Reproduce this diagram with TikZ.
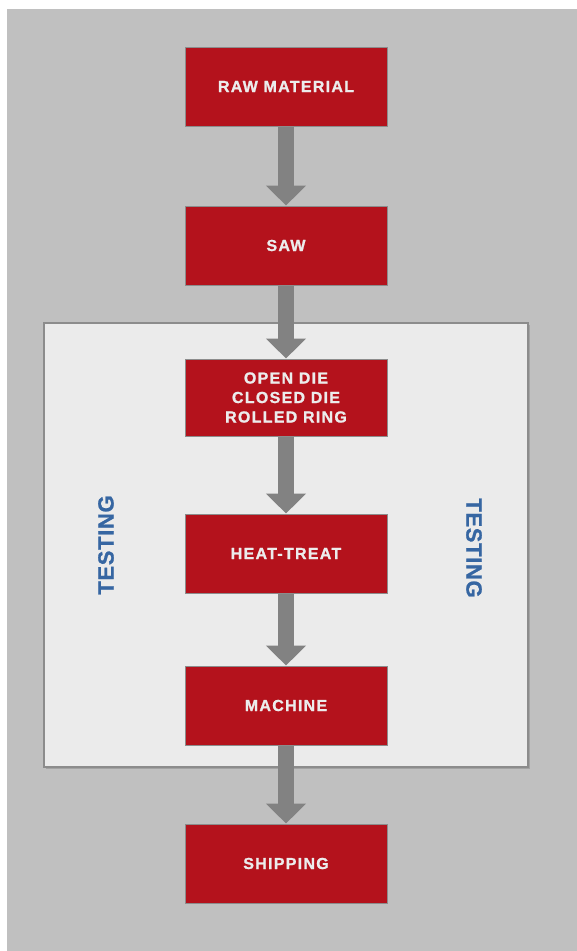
\documentclass[tikz,border=0pt]{standalone}
\usepackage{fontspec}
\usetikzlibrary{arrows.meta}
\newfontfamily\boxfont[LetterSpace=8,FakeBold=1.2]{Liberation Sans}
\newfontfamily\testfont[LetterSpace=3,FakeBold=1]{Liberation Sans}
\definecolor{bgGray}{HTML}{C0C0C0}
\definecolor{panelGray}{HTML}{EBEBEB}
\definecolor{edgeGray}{HTML}{8C8C8C}
\definecolor{arrowGray}{HTML}{828282}
\definecolor{boxRed}{HTML}{B4121C}
\definecolor{txtLight}{HTML}{ECECEC}
\definecolor{testBlue}{HTML}{3666A2}
\tikzset{
  stepbox/.style={draw=edgeGray, line width=1pt, fill=boxRed, minimum width=202pt, minimum height=79pt, inner sep=0pt, align=center, text=txtLight, font=\boxfont\bfseries\fontsize{16}{19.5}\selectfont},
  flowarrow/.style={draw=arrowGray, line width=16pt, -{Triangle[width=39pt,length=20pt]}},
  testlabel/.style={text=testBlue, font=\testfont\bfseries\fontsize{22}{24}\selectfont, inner sep=0pt}
}
\begin{document}
\begin{tikzpicture}[x=1pt,y=-1pt]
\useasboundingbox (0,0) rectangle (577,951);
\fill[bgGray] (7,9) rectangle (577,951);
% panel
\fill[edgeGray!80] (46,325) rectangle (530,769);
\draw[draw=edgeGray, line width=1.2pt, fill=panelGray] (44,323) rectangle (528,767);
\node[stepbox] (raw) at (286,86.5) {RAW MATERIAL};
\node[stepbox] (saw) at (286,245.5) {SAW};
\node[stepbox, minimum height=77pt] (die) at (286,397.5) {OPEN DIE\\CLOSED DIE\\ROLLED RING};
\node[stepbox] (heat) at (286,553.5) {HEAT-TREAT};
\node[stepbox] (mach) at (286,705.5) {MACHINE};
\node[stepbox] (ship) at (286,863.5) {SHIPPING};
\draw[flowarrow] (raw.south) -- (saw.north);
\draw[flowarrow] (saw.south) -- (die.north);
\draw[flowarrow] (die.south) -- (heat.north);
\draw[flowarrow] (heat.south) -- (mach.north);
\draw[flowarrow] (mach.south) -- (ship.north);
\node[testlabel, rotate=90] (testL) at (106,545) {TESTING};
\node[testlabel, rotate=-90] (testR) at (474,548) {TESTING};
\end{tikzpicture}
\end{document}
